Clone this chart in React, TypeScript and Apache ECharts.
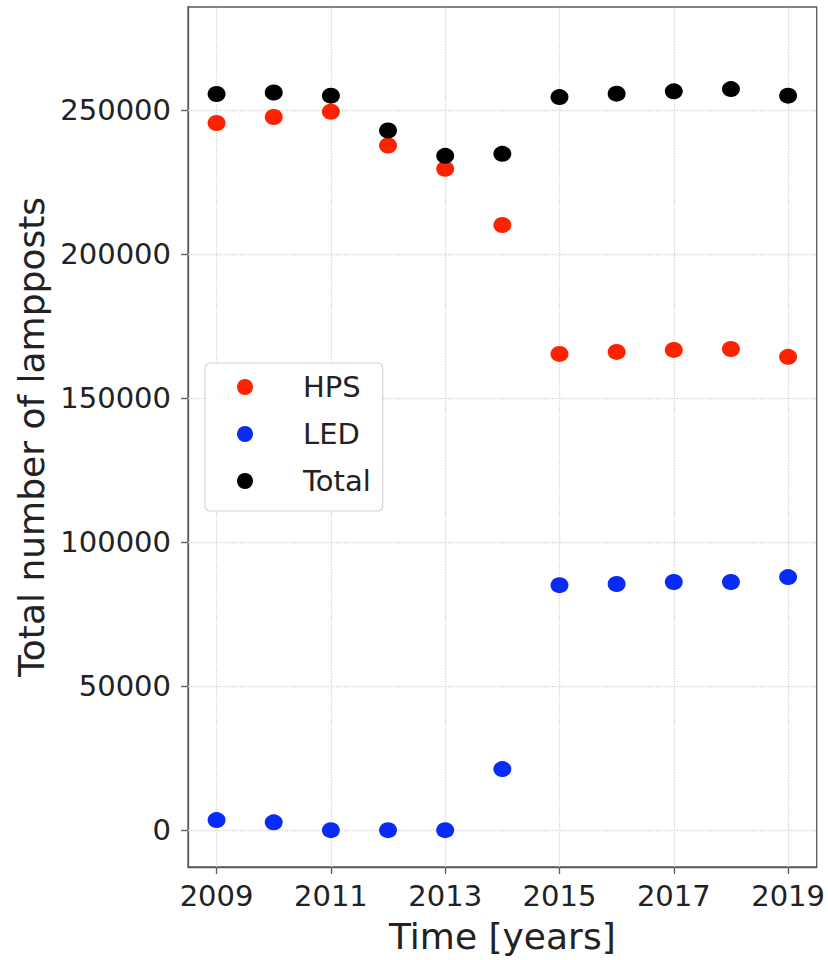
import React, { useEffect, useRef } from "react";
import * as echarts from "echarts";

const years = [2009, 2010, 2011, 2012, 2013, 2014, 2015, 2016, 2017, 2018, 2019];
const hps = [245600, 247700, 249500, 237800, 229700, 210200, 165400, 166100, 166800, 167100, 164400];
const led = [3500, 2700, 0, 0, 0, 21200, 85100, 85500, 86200, 86200, 87900];
const total = [255700, 256200, 255100, 243000, 234200, 234900, 254600, 255800, 256600, 257400, 255100];
const xTicks = [2009, 2011, 2013, 2015, 2017, 2019];
const yTicks = [0, 50000, 100000, 150000, 200000, 250000];

const FONT = "DejaVu Sans";
const GRID_COLOR = "#d6d6d6";

export default function App() {
  const ref = useRef<HTMLDivElement>(null);
  useEffect(() => {
    if (!ref.current) return;
    const chart = echarts.init(ref.current, null, { renderer: "svg" });
    const pts = (vals: number[]) => years.map((y, i) => [y, vals[i]]);
    chart.setOption({
      animation: false,
      backgroundColor: "#ffffff",
      grid: {
        left: 188,
        right: 10,
        top: 7,
        bottom: 93,
        show: true,
        borderColor: "#5a5a5a",
        borderWidth: 1.3,
        backgroundColor: "transparent",
      },
      legend: {
        orient: "vertical",
        left: 205,
        top: 363,
        data: ["HPS", "LED", "Total"],
        icon: "circle",
        itemWidth: 16,
        itemHeight: 16,
        itemGap: 17,
        padding: [9, 12, 15, 32],
        backgroundColor: "rgba(255,255,255,0.85)",
        borderColor: "#d4d4d4",
        borderWidth: 1.2,
        borderRadius: 5,
        textStyle: {
          fontFamily: FONT,
          fontSize: 29,
          color: "#222",
          lineHeight: 30,
          padding: [0, 0, 0, 45],
        },
      },
      xAxis: {
        type: "value",
        min: 2008.5,
        max: 2019.5,
        name: "Time [years]",
        nameLocation: "middle",
        nameGap: 51,
        nameTextStyle: { fontFamily: FONT, fontSize: 36, color: "#222" },
        axisLine: { show: true, onZero: false, lineStyle: { color: "#5a5a5a", width: 1.3 } },
        axisTick: { show: true, length: 7, customValues: xTicks, lineStyle: { color: "#5a5a5a", width: 1.3 } },
        axisLabel: {
          customValues: xTicks,
          fontFamily: FONT,
          fontSize: 29,
          color: "#222",
          margin: 14,
          formatter: (v: number) => String(v),
        },
        splitLine: { show: false },
      },
      yAxis: {
        type: "value",
        min: -12800,
        max: 285900,
        name: "Total number of lampposts",
        nameLocation: "middle",
        nameGap: 137,
        nameTextStyle: { fontFamily: FONT, fontSize: 36, color: "#222" },
        axisLine: { show: true, onZero: false, lineStyle: { color: "#5a5a5a", width: 1.3 } },
        axisTick: { show: true, length: 7, customValues: yTicks, lineStyle: { color: "#5a5a5a", width: 1.3 } },
        axisLabel: {
          customValues: yTicks,
          fontFamily: FONT,
          fontSize: 29,
          color: "#222",
          margin: 17,
          formatter: (v: number) => String(v),
        },
        splitLine: { show: false },
      },
      series: [
        {
          name: "gridlines",
          type: "scatter",
          data: [],
          silent: true,
          z: 1,
          markLine: {
            silent: true,
            z: 1,
            symbol: "none",
            label: { show: false },
            animation: false,
            lineStyle: { color: GRID_COLOR, type: "dotted", width: 1.3 },
            data: [
              ...xTicks.map((v) => ({ xAxis: v })),
              ...yTicks.map((v) => ({ yAxis: v })),
            ],
          },
        },
        {
          name: "HPS",
          type: "scatter",
          data: pts(hps),
          symbol: "circle",
          symbolSize: [18, 16],
          itemStyle: { color: "#ff2200", opacity: 1 },
          z: 2,
        },
        {
          name: "LED",
          type: "scatter",
          data: pts(led),
          symbol: "circle",
          symbolSize: [18, 16],
          itemStyle: { color: "#0a2af8", opacity: 1 },
          z: 3,
        },
        {
          name: "Total",
          type: "scatter",
          data: pts(total),
          symbol: "circle",
          symbolSize: [18, 16],
          itemStyle: { color: "#000000", opacity: 1 },
          z: 4,
        },
      ],
    });
    return () => chart.dispose();
  }, []);
  return (
    <div
      ref={ref}
      style={{ position: "fixed", left: 0, top: 0, width: 828, height: 960, background: "#fff" }}
    />
  );
}
